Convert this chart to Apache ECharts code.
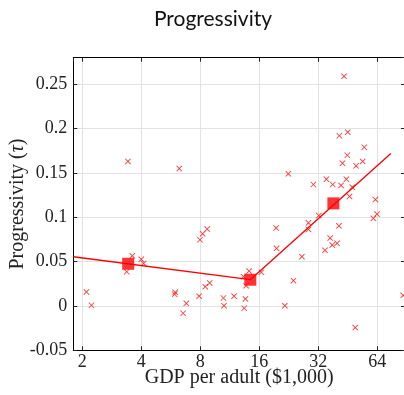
<!DOCTYPE html>
<html>
<head>
<meta charset="utf-8">
<script src="https://cdn.jsdelivr.net/npm/echarts@6/dist/echarts.min.js"></script>
<style>
  html, body { margin: 0; padding: 0; background: #fff; }
  #chart { width: 404px; height: 395px; }
</style>
</head>
<body>
<div id="chart"></div>
<script>
// GDP per adult (thousand dollars) and tax progressivity per country
const gdp = [3.42, 6.25, 43.3, 41.0, 45.2, 54.9, 45.0, 53.9, 42.5, 49.9,
  22.5, 35.2, 44.5, 30.2, 37.9, 41.8, 47.7, 46.2, 62.6, 3.6,
  4.0, 4.11, 3.37, 7.97, 8.22, 8.68, 2.1, 2.23, 5.96, 5.92,
  6.79, 6.54, 7.89, 8.48, 8.93, 10.5, 10.57, 11.9, 14.2, 13.3,
  13.7, 13.6, 13.4, 16.4, 19.5, 19.6, 23.9, 21.6, 26.4, 28.5,
  28.5, 32.2, 40.8, 36.8, 37.7, 39.9, 34.6, 49.4, 61.1, 63.8, 86.8];
const tau = [0.163, 0.155, 0.259, 0.192, 0.196, 0.179, 0.170, 0.163, 0.161, 0.158,
  0.149, 0.143, 0.143, 0.137, 0.137, 0.136, 0.134, 0.1235, 0.120, 0.0566,
  0.0526, 0.048, 0.0386, 0.0747, 0.0814, 0.0867, 0.0158, 0.0008, 0.0154, 0.0132,
  0.003, -0.0082, 0.011, 0.0218, 0.026, 0.009, 0.0003, 0.011, 0.0394, 0.033,
  0.0229, 0.0079, -0.0026, 0.038, 0.088, 0.065, 0.0285, 0.0003, 0.0556, 0.0938,
  0.0863, 0.102, 0.0904, 0.0766, 0.0687, 0.0706, 0.0627, -0.0244, 0.0988, 0.1036, 0.012];

// Group means (squares)
const groupGdp = [3.43, 14.4, 38.2];
const groupTau = [0.0476, 0.0296, 0.1157];

// Piecewise linear fit (in log GDP)
const fitGdp = [1.8, 14.4, 75];
const fitTau = [0.0555, 0.0296, 0.172];

const xTicks = ['2', '4', '8', '16', '32', '64'];

const serif = '"Liberation Serif", "DejaVu Serif", serif';
const red = '#ff0000';
const crossPath = 'path://M0,1L1,0L5,4L9,0L10,1L6,5L10,9L9,10L5,6L1,10L0,9L4,5Z';

const zip = (a, b) => a.map((v, i) => [v, b[i]]);

const chart = echarts.init(document.getElementById('chart'), null, { renderer: 'canvas' });

const baseX = {
  type: 'log',
  logBase: 2,
  min: 1.8,
  max: 88.6,
  axisLine: { show: true, onZero: false, lineStyle: { color: '#000', width: 1 } },
  axisTick: { show: true, inside: true, length: 4, lineStyle: { color: '#222' } },
  minorTick: { show: false },
  minorSplitLine: { show: false }
};
const baseY = {
  type: 'value',
  min: -0.05,
  max: 0.28,
  interval: 0.05,
  axisLine: { show: true, onZero: false, lineStyle: { color: '#000', width: 1 } },
  axisTick: { show: true, inside: true, length: 4, lineStyle: { color: '#222' } }
};

chart.setOption({
  animation: false,
  backgroundColor: '#fff',
  title: {
    text: 'Progressivity',
    left: 208,
    textAlign: 'center',
    top: 4,
    textStyle: { fontFamily: 'Lato, "Open Sans", sans-serif', fontWeight: 'normal', fontSize: 21, color: '#111' }
  },
  grid: { left: 73.3, top: 57.7, width: 331.7, height: 292.6, containLabel: false, outerBoundsMode: 'none' },
  xAxis: [
    Object.assign({}, baseX, {
      position: 'bottom',
      name: 'GDP per adult ($1,000)',
      nameLocation: 'middle',
      nameGap: 17,
      nameMoveOverlap: false,
      nameTextStyle: { fontFamily: serif, fontSize: 20, color: '#222', verticalAlign: 'top' },
      axisLabel: {
        show: true, margin: 3, fontFamily: serif, fontSize: 18, color: '#222',
        showMinLabel: false, showMaxLabel: false,
        formatter: v => {
          const s = String(Math.round(v));
          return xTicks.includes(s) ? s : '';
        }
      },
      splitLine: { show: true, lineStyle: { color: '#e2e2e2', width: 1 } }
    }),
    Object.assign({}, baseX, {
      position: 'top',
      axisLabel: { show: false },
      splitLine: { show: false }
    })
  ],
  yAxis: [
    Object.assign({}, baseY, {
      position: 'left',
      name: 'Progressivity ({i|τ})',
      nameLocation: 'middle',
      nameGap: 46,
      nameMoveOverlap: false,
      nameRotate: 90,
      nameTextStyle: {
        fontFamily: serif, fontSize: 20, color: '#222',
        rich: { i: { fontFamily: serif, fontSize: 20, fontStyle: 'italic', color: '#222' } }
      },
      axisLabel: {
        show: true, margin: 6, fontFamily: serif, fontSize: 18, color: '#222',
        showMaxLabel: false,
        formatter: v => String(Math.round(v * 100) / 100)
      },
      splitLine: { show: true, lineStyle: { color: '#e2e2e2', width: 1 } }
    }),
    Object.assign({}, baseY, {
      position: 'right',
      axisLabel: { show: false },
      splitLine: { show: false }
    })
  ],
  series: [
    {
      type: 'scatter',
      data: zip(gdp, tau),
      symbol: crossPath,
      symbolSize: 6,
      itemStyle: { color: red },
      z: 3
    },
    {
      type: 'line',
      data: zip(fitGdp, fitTau),
      symbol: 'none',
      lineStyle: { color: red, width: 1.3 },
      z: 4
    },
    {
      type: 'scatter',
      data: zip(groupGdp, groupTau),
      symbol: 'rect',
      symbolSize: 12,
      itemStyle: { color: red },
      z: 5
    }
  ]
});
</script>
</body>
</html>
